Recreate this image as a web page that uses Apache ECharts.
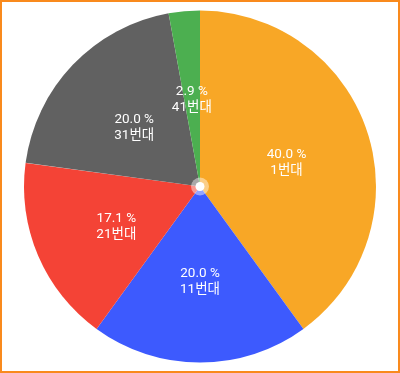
<!DOCTYPE html>
<html><head><meta charset="utf-8">
<script src="https://cdn.jsdelivr.net/npm/echarts@6/dist/echarts.min.js"></script>
<style>
html,body{margin:0;padding:0;background:#fff;}
#frame{width:400px;height:373px;box-sizing:border-box;border:2px solid #f98a1d;}
#c{width:100%;height:100%;}
</style></head>
<body><div id="frame"><div id="c"></div></div>
<script>
const categories = ['1번대', '11번대', '21번대', '31번대', '41번대'];
const counts = [14, 7, 6, 7, 1];
const colors = ['#F8A726', '#3D5AFE', '#F44336', '#616161', '#4CAF50'];

const total = counts.reduce((a, b) => a + b, 0);
const chart = echarts.init(document.getElementById('c'));
chart.setOption({
  animation: false,
  series: [
    {
      type: 'pie',
      center: ['50%', '50%'],
      radius: [0, 176],
      startAngle: 90,
      clockwise: true,
      silent: true,
      label: {
        show: true,
        position: 'inside',
        color: '#fff',
        fontSize: 13.5,
        lineHeight: 16,
        offset: [0, 4],
        fontFamily: 'Roboto, "Noto Sans CJK KR", sans-serif',
        formatter: p => (p.value / total * 100).toFixed(1) + ' %\n' + p.name
      },
      labelLine: { show: false },
      itemStyle: { borderWidth: 0 },
      data: categories.map((n, i) => ({ name: n, value: counts[i], itemStyle: { color: colors[i] } }))
    },
    {
      type: 'pie', radius: [0, 9], center: ['50%', '50%'], silent: true, z: 5,
      label: { show: false }, labelLine: { show: false },
      data: [{ value: 1, itemStyle: { color: 'rgba(255,255,255,0.45)' } }]
    },
    {
      type: 'pie', radius: [0, 4.5], center: ['50%', '50%'], silent: true, z: 6,
      label: { show: false }, labelLine: { show: false },
      data: [{ value: 1, itemStyle: { color: '#ffffff' } }]
    }
  ]
});
</script>
</body></html>
